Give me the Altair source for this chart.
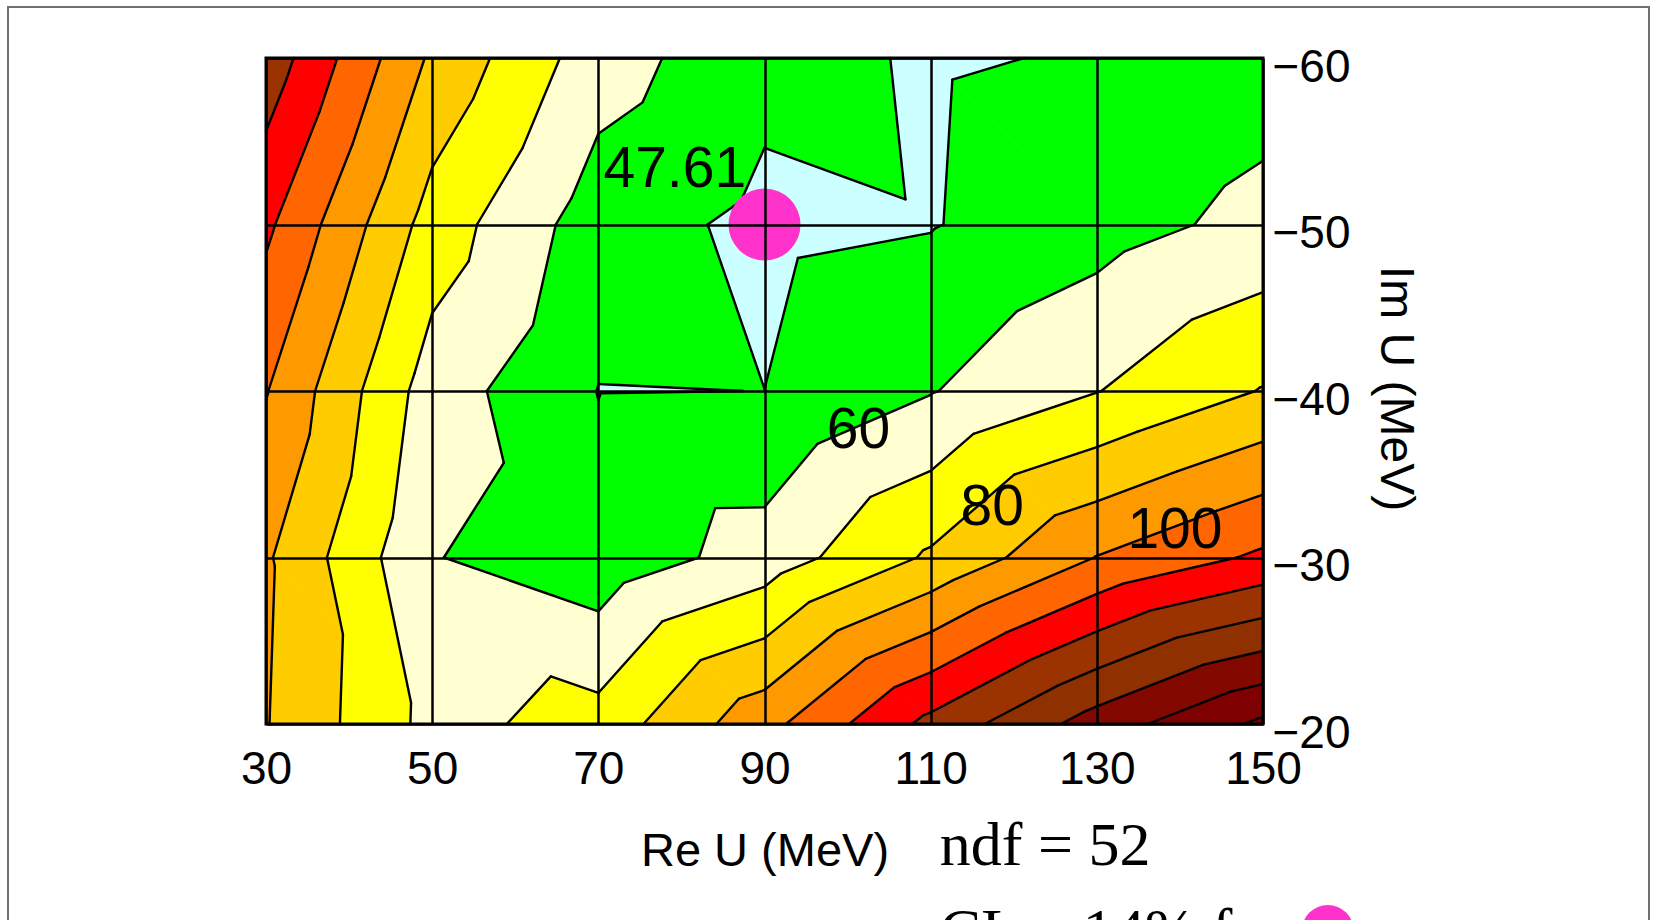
import math
import altair as alt
import pandas as pd

# Fit grid: real and imaginary part of the potential depth U (MeV)
re_u = [30, 50, 70, 90, 110, 130, 150]
im_u = [-60, -50, -40, -30, -20]

# chi-square at each grid node, one list per Im U row
chi2_im_m60 = [126.3, 88.3, 64.5, 52.8, 49.1, 50.7, 55.5]
chi2_im_m50 = [112.0, 75.7, 54.6, 47.61, 49.5, 56.0, 62.8]
chi2_im_m40 = [100.5, 65.0, 49.8, 50.03, 59.5, 69.7, 80.5]
chi2_im_m30 = [91.3, 60.5, 53.4, 64.3, 81.4, 100.3, 111.8]
chi2_im_m20 = [90.5, 66.9, 73.8, 96.6, 122.9, 144.7, 162.0]

# Contour levels and the fill colour of each band between them
contour_levels = [50, 60, 70, 80, 90, 100, 110, 120, 130, 140, 150, 160]
band_colors = ["#CCFFFF", "#00FF00", "#FFFFD2", "#FFFF00", "#FFCC00", "#FF9900",
               "#FF6600", "#FF0000", "#9A3300", "#8F3000", "#820800", "#7E0000",
               "#7A0000"]

# Labelled contours and where their labels sit
level_labels = ["60", "80", "100"]
level_label_x = [101.3, 117.4, 139.4]
level_label_y = [-36.6, -31.95, -30.55]
min_label_x = 79.2
min_label_y = -52.25

ndf_text = "ndf = 52"
cl_text = "CL = 14% for"

SANS = "Liberation Sans, Arial, Helvetica, sans-serif"
SERIF = "Liberation Serif, Times New Roman, Times, serif"

rows = [chi2_im_m60, chi2_im_m50, chi2_im_m40, chi2_im_m30, chi2_im_m20]


def node(i, j):
    return (re_u[i], im_u[j], rows[j][i])


# Split every grid cell into two triangles along its (x_i, y_j)-(x_i+1, y_j+1) diagonal
triangles = []
for j in range(len(im_u) - 1):
    for i in range(len(re_u) - 1):
        a, b, c, d = node(i, j), node(i + 1, j), node(i + 1, j + 1), node(i, j + 1)
        triangles.append((a, b, c))
        triangles.append((a, d, c))


def clip(poly, keep):
    """Keep the part of a polygon where keep(value) >= 0 (value is linear)."""
    out = []
    n = len(poly)
    for k in range(n):
        p, q = poly[k], poly[(k + 1) % n]
        fp, fq = keep(p[2]), keep(q[2])
        if fp >= 0:
            out.append(p)
        if (fp >= 0) != (fq >= 0):
            t = fp / (fp - fq)
            out.append(tuple(p[m] + t * (q[m] - p[m]) for m in range(3)))
    return out


bounds = [-math.inf] + contour_levels + [math.inf]
band_rows = []
piece = 0
for tri in triangles:
    for k in range(len(bounds) - 1):
        lo, hi = bounds[k], bounds[k + 1]
        poly = list(tri)
        if lo > -math.inf:
            poly = clip(poly, lambda v, lo=lo: v - lo)
        if poly and hi < math.inf:
            poly = clip(poly, lambda v, hi=hi: hi - v)
        if len(poly) >= 3:
            for n, (px, py, _) in enumerate(poly):
                band_rows.append({"x": px, "y": py, "piece": piece, "k": n,
                                  "color": band_colors[k]})
            piece += 1
band_df = pd.DataFrame(band_rows)

seg_rows = []
for tri in triangles:
    for lev in contour_levels:
        pts = []
        for p, q in [(0, 1), (1, 2), (2, 0)]:
            P, Q = tri[p], tri[q]
            if (P[2] - lev) * (Q[2] - lev) < 0:
                t = (lev - P[2]) / (Q[2] - P[2])
                pts.append((P[0] + t * (Q[0] - P[0]), P[1] + t * (Q[1] - P[1])))
        if len(pts) == 2:
            seg_rows.append({"x": pts[0][0], "y": pts[0][1],
                             "x2": pts[1][0], "y2": pts[1][1]})
seg_df = pd.DataFrame(seg_rows)

# Best-fit point (grid minimum)
best = min((rows[j][i], re_u[i], im_u[j])
           for j in range(len(im_u)) for i in range(len(re_u)))
best_df = pd.DataFrame({"x": [best[1]], "y": [best[2]]})
min_label_df = pd.DataFrame({"x": [min_label_x], "y": [min_label_y],
                             "t": [f"{best[0]:.2f}"]})
level_label_df = pd.DataFrame({"x": level_label_x, "y": level_label_y,
                               "t": level_labels})

xscale = alt.Scale(domain=[re_u[0], re_u[-1]], nice=False, zero=False)
yscale = alt.Scale(domain=[im_u[0], im_u[-1]], nice=False, zero=False, reverse=True)

x_axis = alt.Axis(
    values=re_u, grid=True, gridColor="black", gridWidth=2.5, gridOpacity=1,
    ticks=False, tickSize=0, domain=False,
    labelFont=SANS, labelFontSize=46, labelColor="black", labelPadding=59,
    labelBaseline="alphabetic", labelFlush=False, labelOverlap=False,
    title="Re U (MeV)", titleFont=SANS, titleFontSize=47, titleFontWeight="normal",
    titleColor="black", titleX=498.5, titleY=141, titleAlign="center",
    titleBaseline="alphabetic", zindex=1,
)
y_axis = alt.Axis(
    orient="right", values=im_u, format="d", grid=True, gridColor="black",
    gridWidth=2.5, gridOpacity=1, ticks=False, tickSize=0, domain=False,
    labelFont=SANS, labelFontSize=46, labelColor="black", labelPadding=9,
    labelAlign="left", labelBaseline="alphabetic", labelOffset=23,
    labelFlush=False, labelOverlap=False,
    title="Im U (MeV)", titleFont=SANS, titleFontSize=48, titleFontWeight="normal",
    titleColor="black", titleAngle=90, titleX=117, titleY=330, titleAlign="center",
    titleBaseline="alphabetic", zindex=1,
)

bands = alt.Chart(band_df).mark_line(
    interpolate="linear-closed", strokeWidth=1, strokeJoin="round"
).encode(
    x=alt.X("x:Q", scale=xscale, axis=x_axis),
    y=alt.Y("y:Q", scale=yscale, axis=y_axis),
    detail="piece:N",
    order="k:Q",
    fill=alt.Fill("color:N", scale=None),
    stroke=alt.Stroke("color:N", scale=None),
)

lines = alt.Chart(seg_df).mark_rule(
    color="black", strokeWidth=2.4, strokeCap="round"
).encode(
    x=alt.X("x:Q", scale=xscale), y=alt.Y("y:Q", scale=yscale),
    x2="x2:Q", y2="y2:Q",
)

border_df = pd.DataFrame({"x": [re_u[0]], "x2": [re_u[-1]],
                          "y": [im_u[0]], "y2": [im_u[-1]]})
border = alt.Chart(border_df).mark_rect(
    filled=False, stroke="black", strokeWidth=3
).encode(
    x=alt.X("x:Q", scale=xscale), x2="x2:Q",
    y=alt.Y("y:Q", scale=yscale), y2="y2:Q",
)

# symbol size is the square of the diameter in pixels
best_point = alt.Chart(best_df).mark_circle(
    size=5184, color="#FF33CC", opacity=1
).encode(x=alt.X("x:Q", scale=xscale), y=alt.Y("y:Q", scale=yscale))

min_label = alt.Chart(min_label_df).mark_text(
    font=SANS, fontSize=57, color="black", align="center", baseline="alphabetic"
).encode(x=alt.X("x:Q", scale=xscale), y=alt.Y("y:Q", scale=yscale), text="t:N")

level_text = alt.Chart(level_label_df).mark_text(
    font=SANS, fontSize=57, color="black", align="center", baseline="alphabetic"
).encode(x=alt.X("x:Q", scale=xscale), y=alt.Y("y:Q", scale=yscale), text="t:N")

notes_df = pd.DataFrame({"x": [111.1, 111.1], "y": [-11.53, -6.35],
                         "t": [ndf_text, cl_text]})
notes = alt.Chart(notes_df).mark_text(
    font=SERIF, fontSize=62, color="black", align="left", baseline="alphabetic"
).encode(x=alt.X("x:Q", scale=xscale), y=alt.Y("y:Q", scale=yscale), text="t:N")

key_df = pd.DataFrame({"x": [157.8], "y": [-7.57]})
key_dot = alt.Chart(key_df).mark_circle(
    size=2704, color="#FF33CC", opacity=1
).encode(x=alt.X("x:Q", scale=xscale), y=alt.Y("y:Q", scale=yscale))

frame = alt.Chart(pd.DataFrame({"a": [0]})).mark_rect(
    filled=False, stroke="#707070", strokeWidth=2
).encode(
    x=alt.value(-258), x2=alt.value(1383), y=alt.value(-51), y2=alt.value(1000)
)

chart = alt.layer(
    bands, lines, border, best_point, min_label, level_text, notes, key_dot, frame
).properties(
    width=997, height=666,
    padding={"left": 266, "top": 58, "right": 391, "bottom": 196},
    autosize=alt.AutoSizeParams(type="none"),
    background="white",
).configure_view(stroke=None)

chart.save("out.html", embed_options={"renderer": "svg", "actions": False})
